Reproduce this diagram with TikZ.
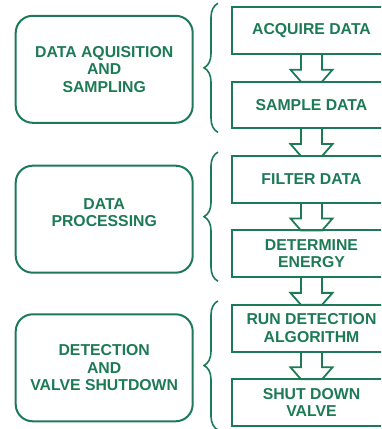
\documentclass[tikz,border=0pt]{standalone}
\usepackage{fontspec}
\setmainfont{Liberation Sans}
\usetikzlibrary{positioning, calc, decorations.pathreplacing}
\definecolor{cgreen}{HTML}{1D7A56}
\tikzset{
  every picture/.style={x=1pt, y=1pt, line width=2pt},
  phase/.style={draw=cgreen, rounded corners=17pt, minimum width=177pt, minimum height=107pt, outer sep=0pt},
  stepbox/.style={draw=cgreen, minimum width=159.6pt, minimum height=46.7pt, outer sep=0pt},
  lbl/.style={text=cgreen, align=center, font=\bfseries\fontsize{15.8}{17.5}\selectfont},
  flow/.style={draw=cgreen, line width=1.8pt, line join=miter},
  brace/.style={draw=cgreen, line width=1.6pt, decorate, decoration={brace, amplitude=14pt}},
}
\newcommand{\flowarrow}[2]{%
  \draw[flow] let \p1=(#1.south), \p2=(#2.north) in
    (\x1-10.5pt,\y1) -- (\x1-10.5pt,\y2+12pt) -- (\x1-21pt,\y2+12pt) -- (\x1-10.5pt,\y2)
    -- (\x1+10.5pt,\y2) -- (\x1+21pt,\y2+12pt) -- (\x1+10.5pt,\y2+12pt) -- (\x1+10.5pt,\y1);}
\begin{document}
\begin{tikzpicture}[node distance=27.7pt]
  \useasboundingbox (0,0) rectangle (381,429);
  \clip (0,0) rectangle (381,429);
  % phases on the left
  \node[phase, lbl] (acqphase) at (104.2,359.7) {DATA AQUISITION\\AND\\SAMPLING};
  \node[phase] (procphase) at (104.2,209.8) {};
  \node[lbl] (proctext) at ([yshift=6.5pt]procphase.center) {DATA\\PROCESSING};
  \node[phase, lbl] (detphase) at (104.2,61.2) {DETECTION\\AND\\VALVE SHUTDOWN};
  % steps on the right
  \node[stepbox, lbl] (acquire) at (311.5,398.35) {ACQUIRE DATA};
  \node[stepbox, lbl, below=of acquire] (sample) {SAMPLE DATA};
  \node[stepbox, lbl, below=of sample] (filter) {FILTER DATA};
  \node[stepbox, lbl, below=of filter] (energy) {DETERMINE\\ENERGY};
  \node[stepbox, lbl, below=of energy] (detect) {RUN DETECTION\\ALGORITHM};
  \node[stepbox, lbl, below=of detect] (shutdown) {SHUT DOWN\\VALVE};
  % hollow arrows between steps
  \foreach \a/\b in {acquire/sample, sample/filter, filter/energy, energy/detect, detect/shutdown}
    \flowarrow{\a}{\b};
  % braces
  \foreach \top/\bot in {acquire/sample, filter/energy, detect/shutdown}
    \draw[brace] ($(\bot.south west)+(-13.7,-4)$) -- ($(\top.north west)+(-13.7,4)$);
\end{tikzpicture}
\end{document}
